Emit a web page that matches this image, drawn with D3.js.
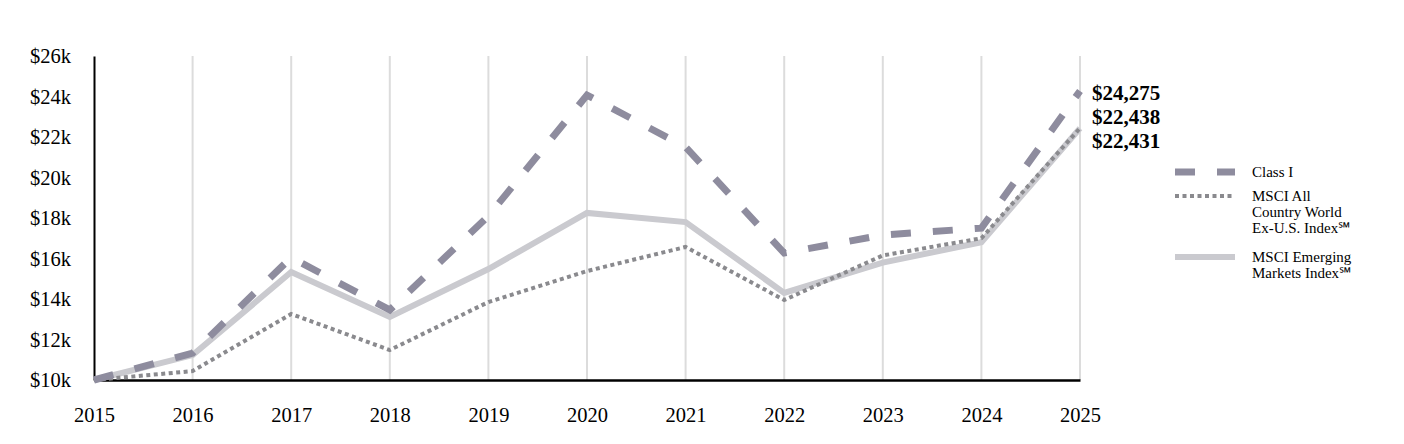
<!DOCTYPE html>
<html>
<head>
<meta charset="utf-8">
<script src="https://cdn.jsdelivr.net/npm/d3@7"></script>
<style>
  body { margin: 0; background: #fff; }
  text { font-family: "Liberation Serif", "Times New Roman", serif; }
</style>
</head>
<body>
<svg id="chart" width="1404" height="444"></svg>
<script>
// data
const years = [2015, 2016, 2017, 2018, 2019, 2020, 2021, 2022, 2023, 2024, 2025]
const classI = [10000, 11330, 16050, 13460, 18100, 24070, 21500, 16270, 17160, 17500, 24275]
const msciAcwi = [10000, 10440, 13260, 11480, 13850, 15380, 16570, 13950, 16150, 17000, 22438]
const msciEm = [10000, 11230, 15330, 13110, 15480, 18250, 17800, 14300, 15800, 16800, 22431]
const yTicks = [10000, 12000, 14000, 16000, 18000, 20000, 22000, 24000, 26000]
const endLabels = ["$24,275", "$22,438", "$22,431"]

const svg = d3.select("#chart")
const plotLeft = 94, plotRight = 1080, plotTop = 56, plotBottom = 380

const x = d3.scaleLinear().domain([2015, 2025]).range([plotLeft, plotRight])
const y = d3.scaleLinear().domain([10000, 26000]).range([plotBottom, plotTop])

// vertical gridlines
svg.append("g")
  .selectAll("line")
  .data(years.slice(1))
  .join("line")
  .attr("x1", d => x(d)).attr("x2", d => x(d))
  .attr("y1", plotTop).attr("y2", plotBottom)
  .attr("stroke", "#dcdcdc")
  .attr("stroke-width", 2)

// y axis
const yAxis = svg.append("g")
  .attr("transform", `translate(${plotLeft},0)`)
  .call(d3.axisLeft(y).tickValues(yTicks).tickSize(0).tickPadding(23)
    .tickFormat(d => "$" + d / 1000 + "k"))
yAxis.select(".domain").attr("stroke", "#000").attr("stroke-width", 2)
yAxis.selectAll("text").attr("font-size", 20.5).attr("fill", "#000")
  .attr("font-family", "Liberation Serif")

// x axis
const xAxis = svg.append("g")
  .attr("transform", `translate(0,${plotBottom})`)
  .call(d3.axisBottom(x).tickValues(years).tickSize(0).tickPadding(27)
    .tickFormat(d3.format("d")))
xAxis.select(".domain").attr("stroke", "#000").attr("stroke-width", 2.5)
xAxis.selectAll("text").attr("font-size", 20.5).attr("fill", "#000")
  .attr("font-family", "Liberation Serif")

const line = d3.line().x((d, i) => x(years[i])).y(d => y(d))

const series = [
  { values: msciEm, color: "#cacacf", width: 6, dash: null },
  { values: msciAcwi, color: "#8a8a8e", width: 4, dash: "4,3.5" },
  { values: classI, color: "#8e8c9e", width: 7, dash: "20,22" }
]

svg.append("g")
  .selectAll("path")
  .data(series)
  .join("path")
  .attr("d", d => line(d.values))
  .attr("fill", "none")
  .attr("stroke", d => d.color)
  .attr("stroke-width", d => d.width)
  .attr("stroke-dasharray", d => d.dash)

// end value labels
svg.append("g")
  .selectAll("text")
  .data(endLabels)
  .join("text")
  .attr("x", 1092)
  .attr("y", (d, i) => 93 + i * 24)
  .attr("dy", "0.35em")
  .attr("font-size", 21)
  .attr("font-weight", "bold")
  .text(d => d)

// legend
const legend = [
  { s: series[2], lines: ["Class I"], y: 172 },
  { s: series[1], lines: ["MSCI All", "Country World", "Ex-U.S. Index\u2120"], y: 196 },
  { s: series[0], lines: ["MSCI Emerging", "Markets Index\u2120"], y: 257 }
]
const lg = svg.append("g").selectAll("g").data(legend).join("g")
lg.append("line")
  .attr("x1", 1175).attr("x2", 1235)
  .attr("y1", d => d.y).attr("y2", d => d.y)
  .attr("stroke", d => d.s.color)
  .attr("stroke-width", d => d.s.width)
  .attr("stroke-dasharray", d => d.s.dash)
lg.append("text")
  .attr("x", 1252)
  .attr("y", d => d.y)
  .attr("font-size", 15)
  .selectAll("tspan")
  .data(d => d.lines)
  .join("tspan")
  .attr("x", 1252)
  .attr("dy", (d, i) => i === 0 ? "0.35em" : "1.07em")
  .text(d => d)
</script>
</body>
</html>
